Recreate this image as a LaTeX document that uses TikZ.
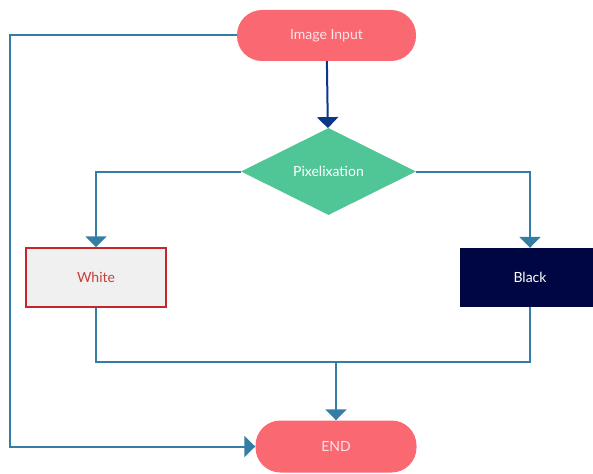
\documentclass[tikz,border=0pt]{standalone}
\usepackage{fontspec}
\setmainfont{Lato}
\usetikzlibrary{shapes.geometric,arrows.meta}
\definecolor{pillred}{RGB}{250,104,114}
\definecolor{pilltext}{RGB}{255,228,230}
\definecolor{pixgreen}{RGB}{80,198,150}
\definecolor{navybox}{RGB}{0,6,66}
\definecolor{greyfill}{RGB}{240,240,240}
\definecolor{redline}{RGB}{196,38,43}
\definecolor{redtext}{RGB}{200,60,60}
\definecolor{linkblue}{RGB}{52,126,166}
\definecolor{darkblue}{RGB}{10,55,135}
\tikzset{
    pill/.style={rectangle, rounded corners=25pt, fill=pillred, text=pilltext, font=\fontsize{14}{16}\selectfont},
    box/.style={rectangle, minimum width=140pt, minimum height=59pt, font=\fontsize{14}{16}\selectfont},
    link/.style={draw=linkblue, line width=2pt, -{Triangle[width=21pt,length=11pt]}},
    plain/.style={draw=linkblue, line width=2pt}
}
\begin{document}
\begin{tikzpicture}[x=1pt, y=-1pt]
        \useasboundingbox (0,0) rectangle (593,473);
        \node[pill, minimum width=179pt, minimum height=51pt] (input) at (326.5,35.5) {Image Input};
        \node[diamond, fill=pixgreen, text=white, inner sep=0pt, minimum width=175pt, minimum height=87pt, font=\fontsize{14}{16}\selectfont] (pix) at (328.5,171.5) {Pixelixation};
        \node[box, fill=greyfill, draw=redline, line width=1.5pt, text=redtext] (white) at (96,277.5) {White};
        \node[box, fill=navybox, text=white] (black) at (530,277.5) {Black};
        \node[pill, minimum width=161pt, minimum height=52pt] (end) at (336,446.5) {END};
        \coordinate (join) at (336,362);
        \coordinate (loop) at (10,35.5);
        \draw[link, draw=darkblue] (input) -- (pix);
        \draw[link] (pix.west) -| (white.north);
        \draw[link] (pix.east) -| (black.north);
        \draw[plain] (white.south) |- (join) -| (black.south);
        \draw[link] (join) -- (end.north);
        \draw[link] (input.west) -- (loop) |- (end.west);
    \end{tikzpicture}
\end{document}
